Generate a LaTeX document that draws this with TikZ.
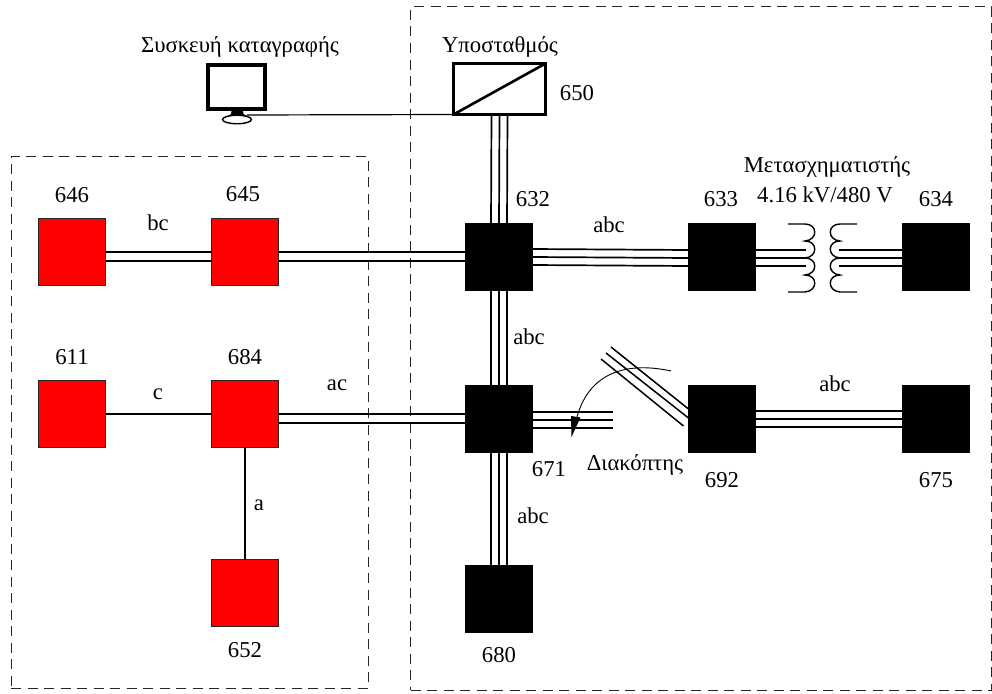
\documentclass[tikz,border=0pt]{standalone}
\usepackage{fontspec}
\setmainfont{Liberation Serif}
\usetikzlibrary{shapes.geometric}
\begin{document}
\begin{tikzpicture}[x=1pt,y=-1pt,
  every node/.style={font=\fontsize{22.7}{26}\selectfont,inner sep=0pt,outer sep=0pt},
  bus/.style={draw=#1,fill=#1,line width=1pt,minimum size=67pt},
  redbus/.style={draw=black!85,fill=red,line width=1.2pt,minimum size=67pt},
  wire/.style={line width=1.7pt,black},
  thick wire/.style={line width=2.8pt,black},
  region/.style={draw=black!85,line width=1pt,dash pattern=on 10pt off 6.5pt},
  coil/.style={line width=1.4pt,black}]
\useasboundingbox (0,0) rectangle (992,693);
% regions
\node[region,minimum width=357pt,minimum height=532pt] (left) at (189.5,422) {};
\node[region,minimum width=581pt,minimum height=683pt] (right) at (701,348.5) {};
% buses
\node[redbus] (b646) at (72,252) {};
\node[redbus] (b645) at (245,252) {};
\node[redbus] (b611) at (72,414) {};
\node[redbus] (b684) at (245,414) {};
\node[redbus] (b652) at (245,593) {};
\node[bus=black] (b632) at (499,257) {};
\node[bus=black] (b633) at (722,257) {};
\node[bus=black] (b634) at (936,257) {};
\node[bus=black] (b671) at (499,419) {};
\node[bus=black] (b692) at (722,419) {};
\node[bus=black] (b675) at (936,419) {};
\node[bus=black] (b680) at (499,599) {};
% substation
\node[draw,line width=2.5pt,minimum width=92pt,minimum height=51pt] (sub) at (499.5,89) {};
\draw[line width=2.6pt] (sub.south west) -- (sub.north east);
% monitor
\node[draw,line width=3.5pt,minimum width=57pt,minimum height=44pt] (mon) at (236.5,87) {};
\draw[line width=1.2pt] ([shift={(-1.5,-1.5)}]mon.north west) rectangle ([shift={(1.5,1.5)}]mon.south east);
\node[draw,ellipse,line width=1.4pt,minimum width=29pt,minimum height=8.5pt] (mbase) at (237,119.5) {};
\fill (231.5,111) -- (243,111) -- (243.5,114) -- (247,116) -- (243,115.5) -- (231.5,115.5) -- (227,116.5) -- (231,114) -- cycle;
\coordinate (mline) at (247,115);
\draw[line width=1.2pt] (mline) -- (sub.south west);
% three-phase
\foreach \s in {-8,0,8}{
  \draw[wire] ([shift={(\s,0)}]sub.south) -- ([shift={(\s,0)}]b632.north);
  \draw[wire] ([shift={(\s,0)}]b632.south) -- ([shift={(\s,0)}]b671.north);
  \draw[wire] ([shift={(\s,0)}]b671.south) -- ([shift={(\s,0)}]b680.north);
  \draw[wire] ([shift={(0,\s)}]b692.east) -- ([shift={(0,\s)}]b675.west);
  \draw[wire] ([shift={(0,\s)}]b632.east) -- ([shift={(0,\s+1)}]b633.west);
  \coordinate (sw\s) at ([shift={(80,\s+1)}]b671.east);
  \draw[wire] ([shift={(0,\s+1)}]b671.east) -- (sw\s);
}
% two-phase
\draw[thick wire] (b646.east) -- (b645.west);
\draw[wire] ([shift={(0,9)}]b646.east) -- ([shift={(0,9)}]b645.west);
\draw[thick wire] (b645.east) -- ([shift={(0,-5)}]b632.west);
\draw[wire] ([shift={(0,9)}]b645.east) -- ([shift={(0,4)}]b632.west);
\draw[thick wire] (b684.east) -- ([shift={(0,-5)}]b671.west);
\draw[wire] ([shift={(0,9)}]b684.east) -- ([shift={(0,4)}]b671.west);
% single-phase
\draw[line width=1.4pt] (b611.east) -- (b684.west);
\draw[line width=2.2pt] (b684.south) -- (b652.north);
% switch
\coordinate (sa) at (611,347); \coordinate (sb) at (606,353); \coordinate (sc) at (601,359);
\draw[line width=1.5pt] (sa) -- ([shift={(0,-10)}]b692.west);
\draw[line width=1.5pt] (sb) -- ([shift={(0,-1)}]b692.west);
\draw[line width=1.5pt] (sc) -- ([shift={(-5,7)}]b692.west);
\draw[line width=0.9pt] (671,371) .. controls (630,362) and (590,370) .. (577,417);
\fill (571,416) -- (580.5,417.5) -- (571.5,437) -- cycle;
% transformer
\draw[coil] (788,224) -- (805,224) .. controls (818,224) and (818,240) .. (805,241)
  .. controls (818,241) and (818,257) .. (805,258)
  .. controls (818,258) and (818,274) .. (805,275)
  .. controls (818,275) and (818,291) .. (805,292) -- (788,292);
\draw[coil] (857,224) -- (840,224) .. controls (827,224) and (827,240) .. (840,241)
  .. controls (827,241) and (827,257) .. (840,258)
  .. controls (827,258) and (827,274) .. (840,275)
  .. controls (827,275) and (827,291) .. (840,292) -- (857,292);
\foreach \s in {-8,0,8}{
  \coordinate (tl\s) at (806,{258+\s});
  \coordinate (tr\s) at (839,{258+\s});
  \draw[wire] ([shift={(0,\s+1)}]b633.east) -- (tl\s);
  \draw[wire] (tr\s) -- ([shift={(0,\s+1)}]b634.west);
}
% labels
\node (t1) at (240,47) {Συσκευή καταγραφής};
\node (t2) at (500,47) {Υποσταθμός};
\node (t3) at (577,93) {650};
\node (t4) at (533,199) {632};
\node (t5) at (609,225) {abc};
\node (t6) at (827,167) {Μετασχηματιστής};
\node (t7) at (825,195) {4.16 kV/480 V};
\node (t8) at (721,199) {633};
\node (t9) at (936,199) {634};
\node (t10) at (72,195) {646};
\node (t11) at (243,194) {645};
\node (t12) at (158,223) {bc};
\node (t13) at (72,357) {611};
\node (t14) at (245,357) {684};
\node (t15) at (158,394) {c};
\node (t16) at (337,385) {ac};
\node (t17) at (259,505) {a};
\node (t18) at (245,650) {652};
\node (t19) at (529,337) {abc};
\node (t20) at (549,469) {671};
\node (t21) at (635,465) {Διακόπτης};
\node (t22) at (722,480) {692};
\node (t23) at (936,480) {675};
\node (t24) at (533,516) {abc};
\node (t25) at (499,655) {680};
\node (t26) at (835,384) {abc};
\end{tikzpicture}
\end{document}
